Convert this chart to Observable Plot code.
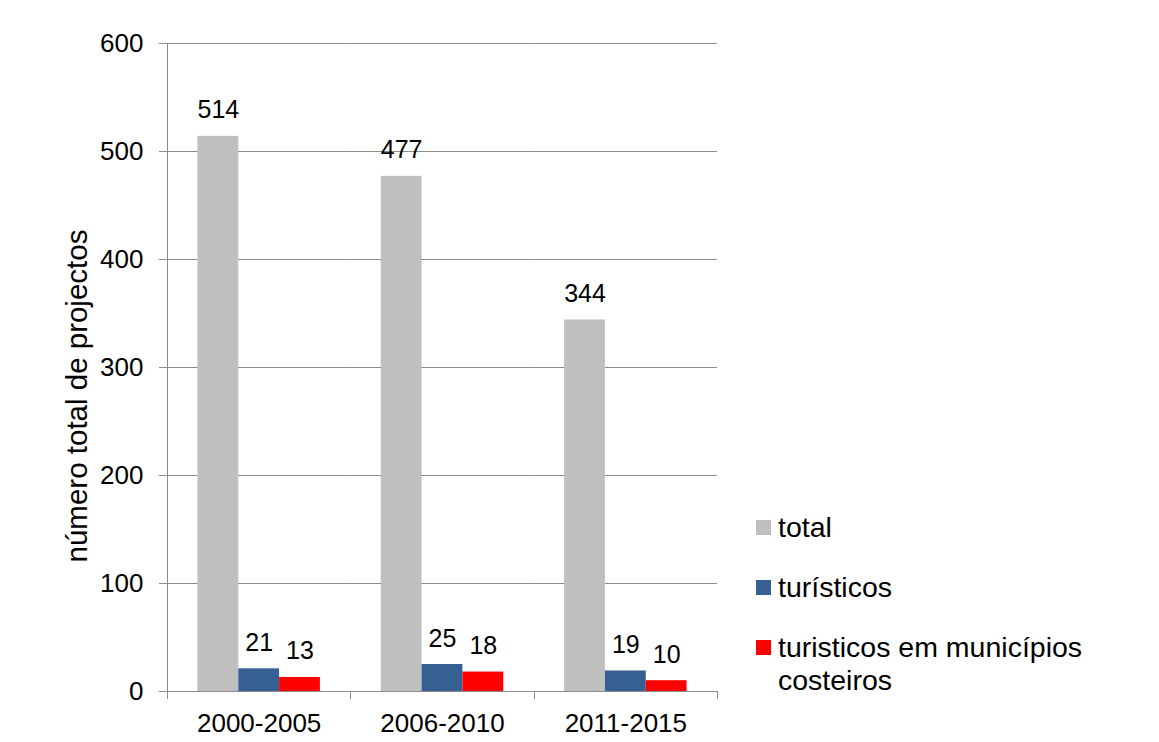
<!DOCTYPE html>
<html><head><meta charset="utf-8">
<script src="https://cdn.jsdelivr.net/npm/d3@7"></script>
<script src="https://cdn.jsdelivr.net/npm/@observablehq/plot@0.6"></script>
<style>
body{margin:0;background:#fff;font-family:"Liberation Sans",Arial,sans-serif}
#wrap{position:relative;width:1159px;height:742px;overflow:hidden}
.sw{position:absolute;width:15px;height:15px}
.lt{position:absolute;font-size:28.5px;line-height:33px;color:#000;width:370px}
#ytitle{position:absolute;left:77px;top:396px;transform:translate(-50%,-50%) rotate(-90deg);font-size:29.5px;line-height:1;white-space:nowrap;color:#000}
</style></head><body><div id="wrap"></div>
<script>
const periods = ["2000-2005", "2006-2010", "2011-2015"];
const series = ["total", "turísticos", "turisticos em municípios costeiros"];
const totals = [514, 477, 344];
const turisticos = [21, 25, 19];
const costeiros = [13, 18, 10];
const yTicks = [0, 100, 200, 300, 400, 500, 600];
const yTitle = "número total de projectos";
const colors = ["#BFBFBF", "#376092", "#FF0000"];

const rows = periods.flatMap((p, i) => [
  {period: p, series: series[0], value: totals[i]},
  {period: p, series: series[1], value: turisticos[i]},
  {period: p, series: series[2], value: costeiros[i]}
]);

const font = '"Liberation Sans", Arial, sans-serif';
const plot = Plot.plot({
  width: 1159, height: 742,
  marginLeft: 167, marginRight: 442, marginTop: 43, marginBottom: 51,
  style: {fontFamily: font, background: "transparent", overflow: "visible"},
  fx: {domain: periods, padding: 0, round: false},
  x: {domain: series, paddingInner: 0, paddingOuter: 0.745, round: false, axis: null},
  y: {domain: [0, 600]},
  color: {domain: series, range: colors},
  marks: [
    Plot.gridY(yTicks, {stroke: "#8c8c8c", strokeOpacity: 1}),
    Plot.barY(rows, {fx: "period", x: "series", y: "value", fill: "series"}),
    Plot.text(rows, {fx: "period", x: "series", y: "value", text: d => String(d.value), lineAnchor: "bottom", dy: -18, fontSize: 25, fill: "black"}),
    Plot.ruleY([0], {stroke: "#8c8c8c", strokeOpacity: 1}),
    Plot.axisY(yTicks, {tickSize: 8, tickPadding: 16, fontSize: 26, label: null, stroke: "#8c8c8c", strokeOpacity: 1, fill: "black"}),
    Plot.axisFx({anchor: "bottom", tickSize: 0, tickPadding: 22, fontSize: 26, label: null, fill: "black"})
  ]
});

// axis decorations from the library's scales
const fx = plot.scale("fx"), y = plot.scale("y");
const bounds = periods.map(p => fx.apply(p)).concat([fx.apply(periods[periods.length - 1]) + fx.bandwidth]);
const svg = d3.select(plot);
const g = svg.append("g").attr("stroke", "#8c8c8c");
const y0 = y.apply(0), yTop = y.apply(yTicks[yTicks.length - 1]);
bounds.forEach(b => g.append("line").attr("x1", Math.round(b) + 0.5).attr("x2", Math.round(b) + 0.5).attr("y1", y0).attr("y2", y0 + 8));
g.append("line").attr("x1", Math.round(bounds[0]) + 0.5).attr("x2", Math.round(bounds[0]) + 0.5).attr("y1", yTop).attr("y2", y0);

const wrap = document.getElementById("wrap");
wrap.appendChild(plot);

// legend
series.forEach((s, i) => {
  const cy = 527.5 + i * 60;
  const sw = document.createElement("div");
  sw.className = "sw"; sw.style.background = colors[i];
  sw.style.left = "756px"; sw.style.top = (cy - 7.5) + "px";
  const t = document.createElement("div");
  t.className = "lt"; t.textContent = s;
  t.style.left = "778px"; t.style.top = (cy - 16.5) + "px";
  wrap.appendChild(sw); wrap.appendChild(t);
});
const yt = document.createElement("div");
yt.id = "ytitle"; yt.textContent = yTitle;
wrap.appendChild(yt);
</script></body></html>
